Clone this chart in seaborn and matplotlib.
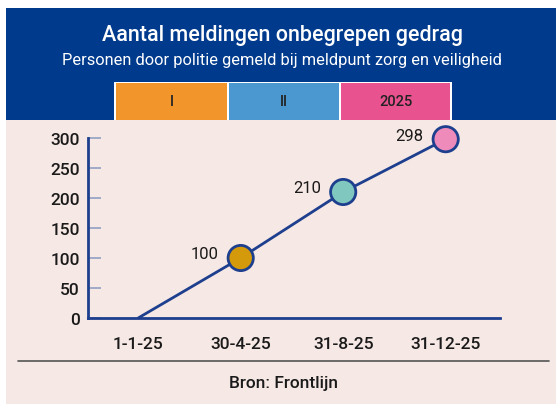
import matplotlib
matplotlib.use('Agg')
import matplotlib.pyplot as plt
from matplotlib.patches import Rectangle
import seaborn as sns
import pandas as pd

# data
dates = ['1-1-25', '30-4-25', '31-8-25', '31-12-25']
meldingen = [0, 100, 210, 298]
point_colors = [None, '#D49A0C', '#80C7BF', '#EE8BBA']
band_labels = ['I', 'II', '2025']
band_colors = ['#F2962C', '#4B98D0', '#E8528F']
yticks = [0, 50, 100, 150, 200, 250, 300]

NAVY = '#003A8C'
LINE = '#1D3F8E'
BG = '#F6E8E4'

sns.set_theme(style='white')
plt.rcParams['font.family'] = ['Roboto', 'DejaVu Sans']

W, H = 556, 406
fig = plt.figure(figsize=(W / 100, H / 100), dpi=100)
fig.patch.set_facecolor('white')

def px_rect(x0, y0, x1, y1, color):
    fig.patches.append(Rectangle((x0 / W, 1 - y1 / H), (x1 - x0) / W, (y1 - y0) / H,
                                 transform=fig.transFigure, facecolor=color,
                                 edgecolor='none', zorder=-5))

# panels
px_rect(6, 9, 556, 405, BG)
px_rect(6, 9, 556, 121, NAVY)
band_x = [(116, 227), (229, 339), (341, 450)]
px_rect(114, 83, 452, 121, 'white')
for (x0, x1), c, lab in zip(band_x, band_colors, band_labels):
    px_rect(x0, 84, x1, 121, c)
    fig.text((x0 + x1) / 2 / W, 1 - 102 / H, lab, ha='center', va='center',
             fontsize=10.5, color='#222222', fontweight='medium')

fig.text(282 / W, 1 - 36 / H, 'Aantal meldingen onbegrepen gedrag', ha='center', va='center',
         fontsize=15.5, color='white', fontweight='medium')
fig.text(282 / W, 1 - 61 / H, 'Personen door politie gemeld bij meldpunt zorg en veiligheid',
         ha='center', va='center', fontsize=11.8, color='white')

# axes
ax = fig.add_axes([88 / W, 1 - 319 / H, (500 - 88) / W, (319 - 139) / H])
ax.set_facecolor('none')
df = pd.DataFrame({'x': range(len(dates)), 'y': meldingen})
sns.lineplot(data=df, x='x', y='y', ax=ax, color=LINE, linewidth=2, zorder=2)
pts = df.iloc[1:]
sns.scatterplot(data=pts, x='x', y='y', ax=ax, hue='x', palette=point_colors[1:],
                s=330, edgecolor=LINE, linewidth=2, legend=False, zorder=3, clip_on=False)
for xi, yi in zip(pts['x'], pts['y']):
    ax.annotate(str(yi), (xi, yi), xytext=(-16, 3), textcoords='offset points',
                ha='right', va='center', fontsize=12, color='#1a1a1a')

ax.set_xlim(-0.49, 3.53)
ax.set_ylim(0, 300)
ax.set_xticks(range(len(dates)))
ax.set_xticklabels(dates)
ax.set_yticks(yticks)
ax.set_xlabel('')
ax.set_ylabel('')
for s in ['top', 'right']:
    ax.spines[s].set_visible(False)
for s in ['left', 'bottom']:
    ax.spines[s].set_color(LINE)
    ax.spines[s].set_linewidth(2)
ax.tick_params(axis='y', left=True, direction='in', length=9, width=1.3, color='#9AA6C6',
               labelsize=12.5, labelcolor='#1a1a1a', pad=6)
ax.tick_params(axis='x', bottom=False, length=0, labelsize=12.5, labelcolor='#1a1a1a', pad=13)
for lab in ax.get_xticklabels() + ax.get_yticklabels():
    lab.set_fontweight('medium')

# footer
fig.add_artist(plt.Line2D([18 / W, 549 / W], [1 - 362 / H, 1 - 362 / H],
                          transform=fig.transFigure, color='#555555', linewidth=1.2))
fig.text(283 / W, 1 - 384 / H, 'Bron: Frontlijn', ha='center', va='center',
         fontsize=12.5, color='#1a1a1a', fontweight='medium')

fig.savefig('out.png', dpi=100, facecolor=fig.get_facecolor())
